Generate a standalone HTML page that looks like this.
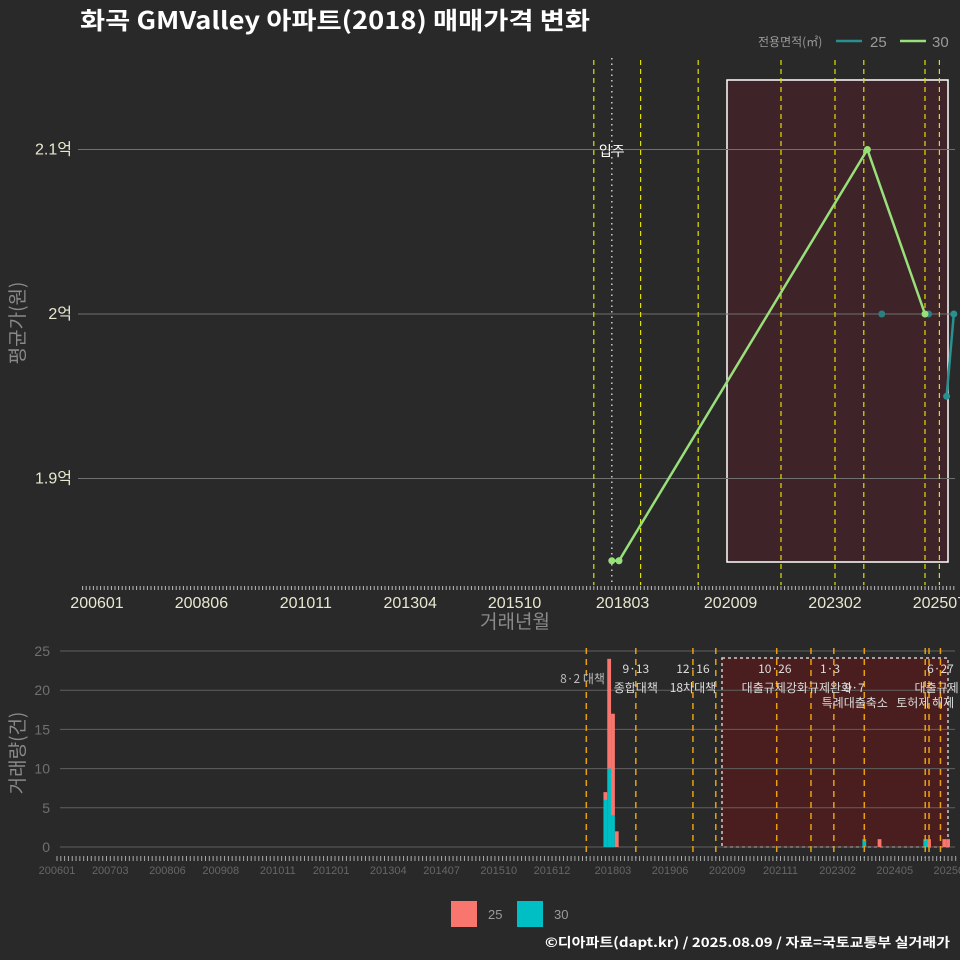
<!DOCTYPE html>
<html><head><meta charset="utf-8">
<style>
html,body{margin:0;padding:0;background:#292929;}
svg{display:block;font-family:"Liberation Sans","Noto Sans CJK KR",sans-serif;}
</style></head>
<body>
<svg id="c" width="960" height="960" viewBox="0 0 960 960" xmlns="http://www.w3.org/2000/svg">
<rect x="0" y="0" width="960" height="960" fill="#292929"/>
<text x="80" y="29" fill="#ffffff" font-size="24" font-weight="bold" font-family="'Noto Sans CJK KR',sans-serif" textLength="510" lengthAdjust="spacingAndGlyphs">화곡 GMValley 아파트(2018) 매매가격 변화</text>
<g>
<text x="758" y="46" fill="#9a9a9a" font-size="12" font-family="'Noto Sans CJK KR',sans-serif">전용면적(㎡)</text>
<line x1="836" y1="41" x2="862" y2="41" stroke="#2a8f8f" stroke-width="2.5"/>
<text x="870" y="47" fill="#9a9a9a" font-size="15">25</text>
<line x1="900" y1="41" x2="926" y2="41" stroke="#98e07a" stroke-width="2.5"/>
<text x="932" y="47" fill="#9a9a9a" font-size="15">30</text>
</g>
<text transform="translate(24,323) rotate(-90)" text-anchor="middle" fill="#8a8a8a" font-size="19" font-family="'Noto Sans CJK KR',sans-serif">평균가(원)</text>
<text x="515" y="628" text-anchor="middle" fill="#8a8a8a" font-size="19" font-family="'Noto Sans CJK KR',sans-serif">거래년월</text>
<text transform="translate(24,753) rotate(-90)" text-anchor="middle" fill="#8a8a8a" font-size="19" font-family="'Noto Sans CJK KR',sans-serif">거래량(건)</text>
<g>
<rect x="451" y="901" width="26" height="26" fill="#f8766d"/>
<text x="488" y="919" fill="#9a9a9a" font-size="13">25</text>
<rect x="517" y="901" width="26" height="26" fill="#00bfc4"/>
<text x="554" y="919" fill="#9a9a9a" font-size="13">30</text>
</g>
<text x="950" y="947" text-anchor="end" fill="#ffffff" font-size="13" font-weight="bold" font-family="'Noto Sans CJK KR',sans-serif" textLength="405" lengthAdjust="spacingAndGlyphs">©디아파트(dapt.kr) / 2025.08.09 / 자료=국토교통부 실거래가</text>
</svg>
<script>
// ---- data ----
var topTickLabels = ["200601","200806","201011","201304","201510","201803","202009","202302","202507"];
var topTickMonths = [0,29,58,87,116,146,176,205,234];
var priceTicks = [1.9,2.0,2.1];
var priceTickLabels = ["1.9억","2억","2.1억"];
var s30Months = [143,145,214,230];
var s30Prices = [1.85,1.85,2.10,2.00];
var s25Months = [145,218,231,236,238];
var s25Prices = [1.85,2.00,2.00,1.95,2.00];
var topPolicyMonths = [138,151,167,190,205,213,230,234];
var moveInMonth = 143;
var botTickLabels = ["200601","200703","200806","200908","201011","201201","201304","201407","201510","201612","201803","201906","202009","202111","202302","202405","202508"];
var botTickMonths = [0,14,29,43,58,72,87,101,116,130,146,161,176,190,205,220,235];
var volMonths = [144,145,146,147,212,216,228,229,233,234];
var vol25 = [1,14,13,2,0,1,0,1,1,1];
var vol30 = [6,10,4,0,1,0,1,0,0,0];
var volTicks = [0,5,10,15,20,25];
var botPolicyMonths = [139,152,167,173,189,198,204,212,228,229,232];
var policyTexts = ["8·2 대책","9·13","종합대책","12·16","18차대책","10·26","대출규제강화","1·3","규제완화","9·7","특례대출축소","토허제 해제","6·27","대출규제"];
var policyTextMonths = [138,152,152,167,167,188.5,188.5,203,203,209.5,209.5,228,232,231];
var policyTextRow = [1,0,1,0,1,0,1,0,1,1,2,2,0,1];

var NS="http://www.w3.org/2000/svg", svg=document.getElementById('c');
function mk(t,a,p){var e=document.createElementNS(NS,t);for(var k in a)e.setAttribute(k,a[k]);(p||svg).appendChild(e);return e;}
function xT(m){return 97+3.6*m;}
function yT(v){return 314-(v-2.0)*1645;}
function xB(m){return 57+3.808*m;}
function yB(v){return 847-v*7.84;}

// ---- top panel ----
var gT=mk('g',{});


var r=mk('rect',{x:727,y:80,width:221,height:482,fill:'#3e2328',stroke:'#ffffff','stroke-width':1.5},gT);


priceTicks.forEach(function(v,i){
 var l=mk('line',{x1:78,x2:955,y1:yT(v),y2:yT(v),stroke:'#707070','stroke-width':1},gT);
 
 
 var t=mk('text',{x:72,y:yT(v)+5,'text-anchor':'end',fill:'#e8e8d0','font-size':16},gT);
 
 
 t.textContent=priceTickLabels[i];
});
topPolicyMonths.forEach(function(m){
 var l=mk('line',{x1:xT(m),x2:xT(m),y1:60,y2:585,stroke:'#e0e000','stroke-width':1.2,'stroke-dasharray':'5,4'},gT);
 
 
});
var mv=mk('line',{x1:xT(moveInMonth),x2:xT(moveInMonth),y1:58,y2:585,stroke:'#cccccc','stroke-width':1.5,'stroke-dasharray':'1.5,4'},gT);


var mt=mk('text',{x:xT(moveInMonth),y:156,'text-anchor':'middle',fill:'#ffffff','font-size':14,'font-family':"'Noto Sans CJK KR',sans-serif"},gT);


mt.textContent='입주';
function series(ms,vs,col,name){
 var pts=ms.map(function(m,i){return xT(m)+','+yT(vs[i]);}).join(' ');
 var pl=mk('polyline',{points:pts,fill:'none',stroke:col,'stroke-width':2.5},gT);
 
 
 ms.forEach(function(m,i){
  var c=mk('circle',{cx:xT(m),cy:yT(vs[i]),r:3.5,fill:col},gT);
  
  
 });
}
series(s25Months.slice(3),s25Prices.slice(3),'#2a8f8f','series-25');
s25Months.slice(0,3).forEach(function(m,i){
 var c=mk('circle',{cx:xT(m),cy:yT(s25Prices[i]),r:3.5,fill:'#2a8080'},gT);
 
 
});
series(s30Months,s30Prices,'#98e07a','series-30');
for(var m=-4;m<=238;m++){
 var tk=mk('line',{x1:xT(m),x2:xT(m),y1:586,y2:590,stroke:'#bbbbbb','stroke-width':1},gT);
 
 
}
topTickLabels.forEach(function(s,i){
 var t=mk('text',{x:xT(topTickMonths[i]),y:608,'text-anchor':'middle',fill:'#e8e8d0','font-size':16},gT);
 
 
 t.textContent=s;
});

// ---- bottom panel ----
var gB=mk('g',{});


var rb=mk('rect',{x:722,y:658,width:226,height:189,fill:'#4a1e1e',stroke:'#cccccc','stroke-width':1.5,'stroke-dasharray':'3,3'},gB);


volTicks.forEach(function(v){
 var l=mk('line',{x1:60,x2:955,y1:yB(v),y2:yB(v),stroke:'#606060','stroke-width':1},gB);
 
 
 var t=mk('text',{x:50,y:yB(v)+5,'text-anchor':'end',fill:'#707070','font-size':14},gB);
 
 
 t.textContent=v;
});
volMonths.forEach(function(m,i){
 var x=xB(m)-1.9, w=3.8;
 if(vol30[i]>0){var b=mk('rect',{x:x,y:yB(vol30[i]),width:w,height:yB(0)-yB(vol30[i]),fill:'#00bfc4'},gB);
  
  }
 if(vol25[i]>0){var b2=mk('rect',{x:x,y:yB(vol30[i]+vol25[i]),width:w,height:yB(vol30[i])-yB(vol30[i]+vol25[i]),fill:'#f8766d'},gB);
  
  }
});
botPolicyMonths.forEach(function(m){
 var l=mk('line',{x1:xB(m),x2:xB(m),y1:648,y2:858,stroke:'#e8a010','stroke-width':1.5,'stroke-dasharray':'6,5'},gB);
 
 
});
var rowY=[673,692,707];
policyTexts.forEach(function(s,i){
 var t=mk('text',{x:xB(policyTextMonths[i]),y:i==0?683:rowY[policyTextRow[i]],'text-anchor':'middle',fill:i==0?'#bbbbbb':'#dddddd','font-size':12,'font-family':"'Noto Sans CJK KR',sans-serif"},gB);
 
 
 t.textContent=s;
});
for(var m2=0;m2<=236;m2++){
 var tk2=mk('line',{x1:xB(m2),x2:xB(m2),y1:856,y2:861,stroke:'#aaaaaa','stroke-width':1},gB);
 
 
}
botTickLabels.forEach(function(s,i){
 var t=mk('text',{x:xB(botTickMonths[i]),y:874,'text-anchor':'middle',fill:'#666666','font-size':11},gB);
 
 
 t.textContent=s;
});
</script>
</body></html>
